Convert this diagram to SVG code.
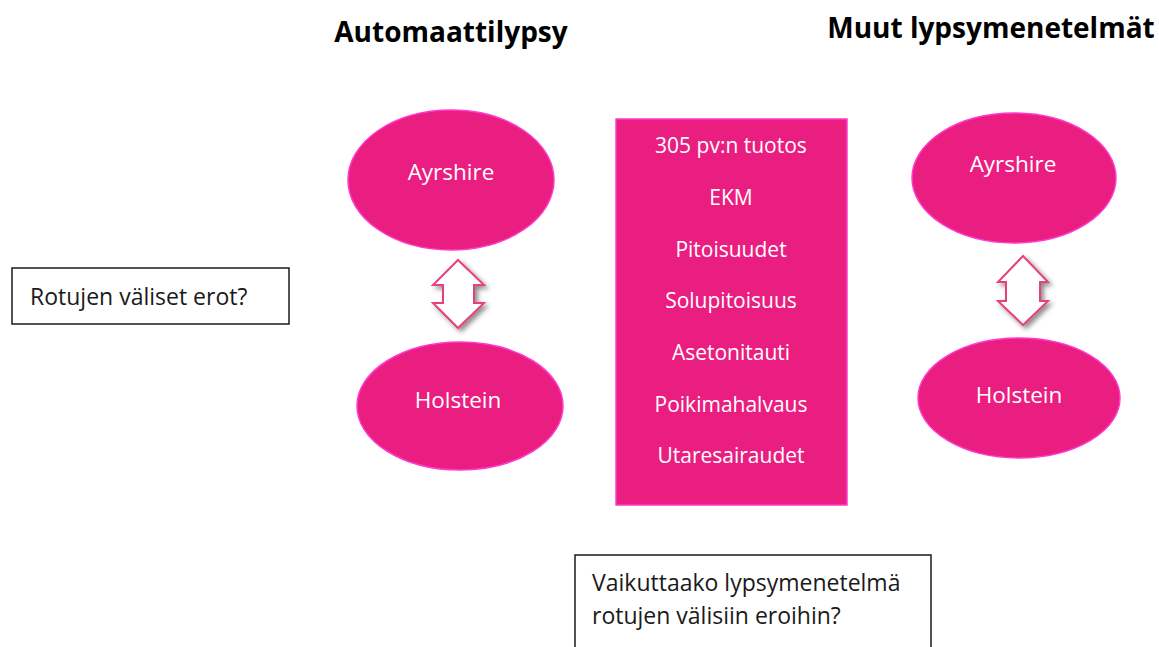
<svg xmlns="http://www.w3.org/2000/svg" width="1159" height="647" viewBox="0 0 1159 647">
  <defs>
    <style>
      .title { font-family: "Open Sans", "Liberation Sans", sans-serif; font-weight: bold; font-size: 28px; fill: #000; text-anchor: middle; }
      .breed { fill: #EA1E80; stroke: #FF3ACF; stroke-width: 1.5; }
      .breed-label { font-family: "Open Sans", "Liberation Sans", sans-serif; font-size: 22.5px; fill: #FFFFFF; text-anchor: middle; }
      .traits { fill: #EA1E80; stroke: #FF3ACF; stroke-width: 1.5; }
      .trait-label { font-family: "Open Sans", "Liberation Sans", sans-serif; font-size: 21px; fill: #FFFFFF; text-anchor: middle; }
      .note { fill: #FFFFFF; stroke: #1A1A1A; stroke-width: 1.5; }
      .note-label { font-family: "Open Sans", "Liberation Sans", sans-serif; font-size: 23px; fill: #1A1A1A; }
      .dbl-arrow { fill: #FFFFFF; stroke: #E8407F; stroke-width: 2; stroke-linejoin: miter; filter: url(#shadow); }
    </style>
    <filter id="shadow" x="-40%" y="-40%" width="200%" height="200%">
      <feGaussianBlur in="SourceAlpha" stdDeviation="2.5"/>
      <feOffset dx="3" dy="3" result="off"/>
      <feComponentTransfer><feFuncA type="linear" slope="0.45"/></feComponentTransfer>
      <feMerge><feMergeNode/><feMergeNode in="SourceGraphic"/></feMerge>
    </filter>
  </defs>

  <rect width="1159" height="647" fill="#FFFFFF"/>

  <!-- column headings -->
  <text class="title" x="451" y="42">Automaattilypsy</text>
  <text class="title" x="991" y="38">Muut lypsymenetelmät</text>

  <!-- automatic milking: breeds -->
  <g id="ams-ayrshire">
    <ellipse class="breed" cx="451" cy="180" rx="103" ry="70"/>
    <text class="breed-label" x="451" y="180">Ayrshire</text>
  </g>
  <g id="ams-holstein">
    <ellipse class="breed" cx="460" cy="406" rx="103" ry="64"/>
    <text class="breed-label" x="458" y="408">Holstein</text>
  </g>

  <!-- other milking methods: breeds -->
  <g id="other-ayrshire">
    <ellipse class="breed" cx="1014" cy="178" rx="102" ry="65"/>
    <text class="breed-label" x="1013" y="172">Ayrshire</text>
  </g>
  <g id="other-holstein">
    <ellipse class="breed" cx="1019" cy="398" rx="101" ry="60"/>
    <text class="breed-label" x="1019" y="403">Holstein</text>
  </g>

  <!-- measured traits -->
  <g id="traits">
    <rect class="traits" x="616" y="119" width="231" height="386"/>
    <text class="trait-label" x="731" y="153">305 pv:n tuotos</text>
    <text class="trait-label" x="731" y="205">EKM</text>
    <text class="trait-label" x="731" y="257">Pitoisuudet</text>
    <text class="trait-label" x="731" y="308">Solupitoisuus</text>
    <text class="trait-label" x="731" y="360">Asetonitauti</text>
    <text class="trait-label" x="731" y="412">Poikimahalvaus</text>
    <text class="trait-label" x="731" y="463">Utaresairaudet</text>
  </g>

  <!-- question boxes -->
  <g id="question-breeds">
    <rect class="note" x="12" y="268" width="277" height="56"/>
    <text class="note-label" x="30" y="305">Rotujen väliset erot?</text>
  </g>
  <g id="question-method">
    <rect class="note" x="575" y="555" width="356" height="100"/>
    <text class="note-label" x="592" y="591">Vaikuttaako lypsymenetelmä</text>
    <text class="note-label" x="592" y="624">rotujen välisiin eroihin?</text>
  </g>

  <!-- double-headed comparison arrows -->
  <g id="connectors">
    <path class="dbl-arrow" d="M458,260 L484,285 L474,285 L474,303 L484,303 L458,328 L433,303 L443,303 L443,285 L433,285 Z"/>
    <path class="dbl-arrow" d="M1023,256 L1048,282 L1040,282 L1040,301 L1048,301 L1023,325 L998,301 L1006,301 L1006,282 L998,282 Z"/>
  </g>
</svg>
